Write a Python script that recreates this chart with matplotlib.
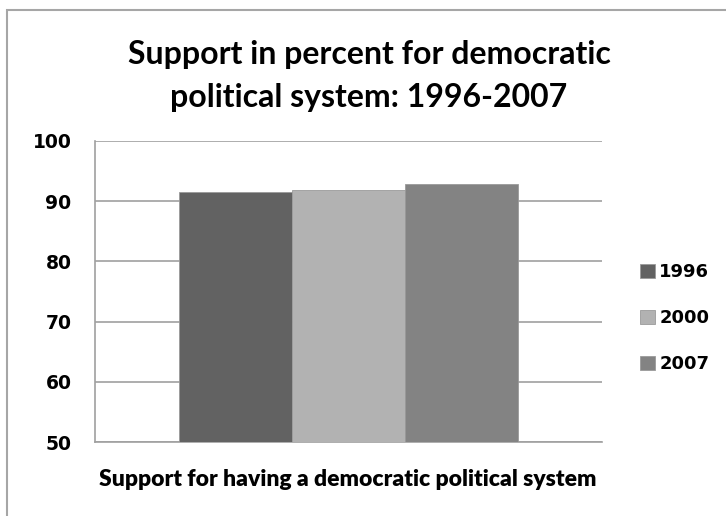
import matplotlib
matplotlib.use("Agg")
import matplotlib.pyplot as plt
from matplotlib.patches import Rectangle

years = ["1996", "2000", "2007"]
values = [91.6, 91.8, 92.8]
colors = ["#626262", "#b2b2b2", "#838383"]
category = "Support for having a democratic political system"
yticks = [50, 60, 70, 80, 90, 100]

W, H = 726, 516
fig = plt.figure(figsize=(W / 100, H / 100), dpi=100)
fig.patch.set_facecolor("white")

# outer border
fig.patches.append(Rectangle((7 / W, -0.1), 1.0, 0.1 + (H - 10) / H, transform=fig.transFigure,
                             fill=False, edgecolor="#a6a6a6", linewidth=1.5, zorder=0))

left, right, top, bottom = 95, 602, 141, 442
ax = fig.add_axes([left / W, 1 - bottom / H, (right - left) / W, (bottom - top) / H])

bw = 113 / 507
n = len(years)
for i, (y, v, c) in enumerate(zip(years, values, colors)):
    x = (i - (n - 1) / 2) * bw
    ax.bar(x, v - 50, bottom=50, width=bw, color=c, edgecolor="#9a9a9a", linewidth=0.6, label=y, zorder=3)

ax.set_xlim(-0.5, 0.5)
ax.set_ylim(50, 100)
ax.set_yticks(yticks)
ax.set_yticklabels([str(t) for t in yticks], fontfamily="DejaVu Sans", fontweight="bold", fontsize=13.5)
ax.tick_params(axis="y", length=0, pad=17)
ax.set_xticks([])
ax.yaxis.grid(True, color="#a0a0a0", linewidth=1.2, zorder=0)
for s in ["top", "right"]:
    ax.spines[s].set_visible(False)
for s in ["left", "bottom"]:
    ax.spines[s].set_color("#a0a0a0")
    ax.spines[s].set_linewidth(1.2)

fig.text(348 / W, 1 - 480 / H, category, ha="center", va="center",
         fontfamily="Lato", fontweight="heavy", fontsize=16.5)
fig.text(369 / W, 1 - 76 / H, "Support in percent for democratic\npolitical system: 1996-2007",
         ha="center", va="center", fontfamily="Lato", fontweight="bold", fontsize=23,
         linespacing=1.55)

leg = fig.legend(loc="center left", bbox_to_anchor=(624 / W, 1 - 318 / H), frameon=False,
                 prop={"family": "DejaVu Sans", "weight": "bold", "size": 13},
                 handlelength=0.8, handleheight=0.8, handletextpad=0.25, labelspacing=1.55)

fig.savefig("out.png", dpi=100, facecolor="white")
